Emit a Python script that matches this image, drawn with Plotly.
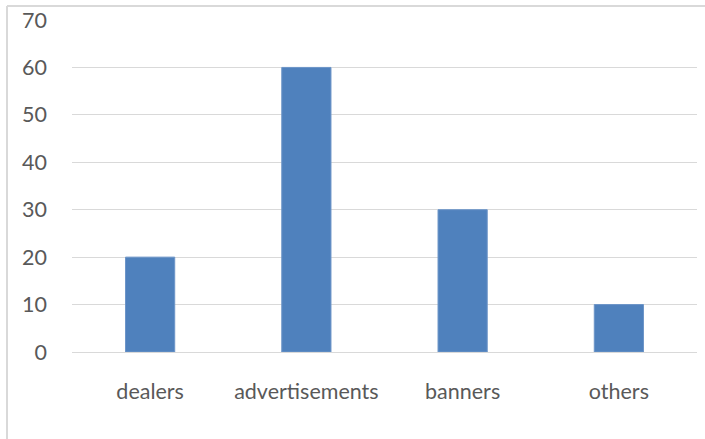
import plotly.graph_objects as go

categories = ["dealers", "advertisements", "banners", "others"]
values = [20, 60, 30, 10]
y_ticks = [0, 10, 20, 30, 40, 50, 60, 70]

W, H = 705, 439
ml, mr, mt, mb = 72, 8, 20, 87
pw, ph = W - ml - mr, H - mt - mb

fig = go.Figure()
fig.add_trace(go.Bar(
    x=categories, y=values,
    marker=dict(color="#4F81BD", line=dict(color="#6C95C8", width=1)),
    width=0.315,
))

def px_x(x):
    return (x - ml) / pw

def px_y(y):
    return 1 - (y - mt) / ph

border = "#D9D9D9"
fig.add_shape(type="line", xref="paper", yref="paper",
              x0=px_x(7), x1=px_x(705), y0=px_y(6), y1=px_y(6),
              line=dict(color=border, width=2))
fig.add_shape(type="line", xref="paper", yref="paper",
              x0=px_x(7), x1=px_x(7), y0=px_y(6), y1=px_y(439),
              line=dict(color=border, width=2))

fig.update_layout(
    width=W, height=H,
    margin=dict(l=ml, r=mr, t=mt, b=mb),
    paper_bgcolor="white", plot_bgcolor="white",
    font=dict(family="Lato, Open Sans, sans-serif", size=21.5, color="#595959"),
    showlegend=False,
    bargap=0.685,
)
fig.update_xaxes(showgrid=False, showline=False, ticks="", ticklabelstandoff=24)
fig.update_yaxes(range=[0, 70], tickvals=y_ticks, showgrid=True,
                 gridcolor="#D9D9D9", gridwidth=1, zeroline=True,
                 zerolinecolor="#D9D9D9", zerolinewidth=1,
                 showline=False, ticks="", ticklabelstandoff=24)

fig.write_html("out.html")
